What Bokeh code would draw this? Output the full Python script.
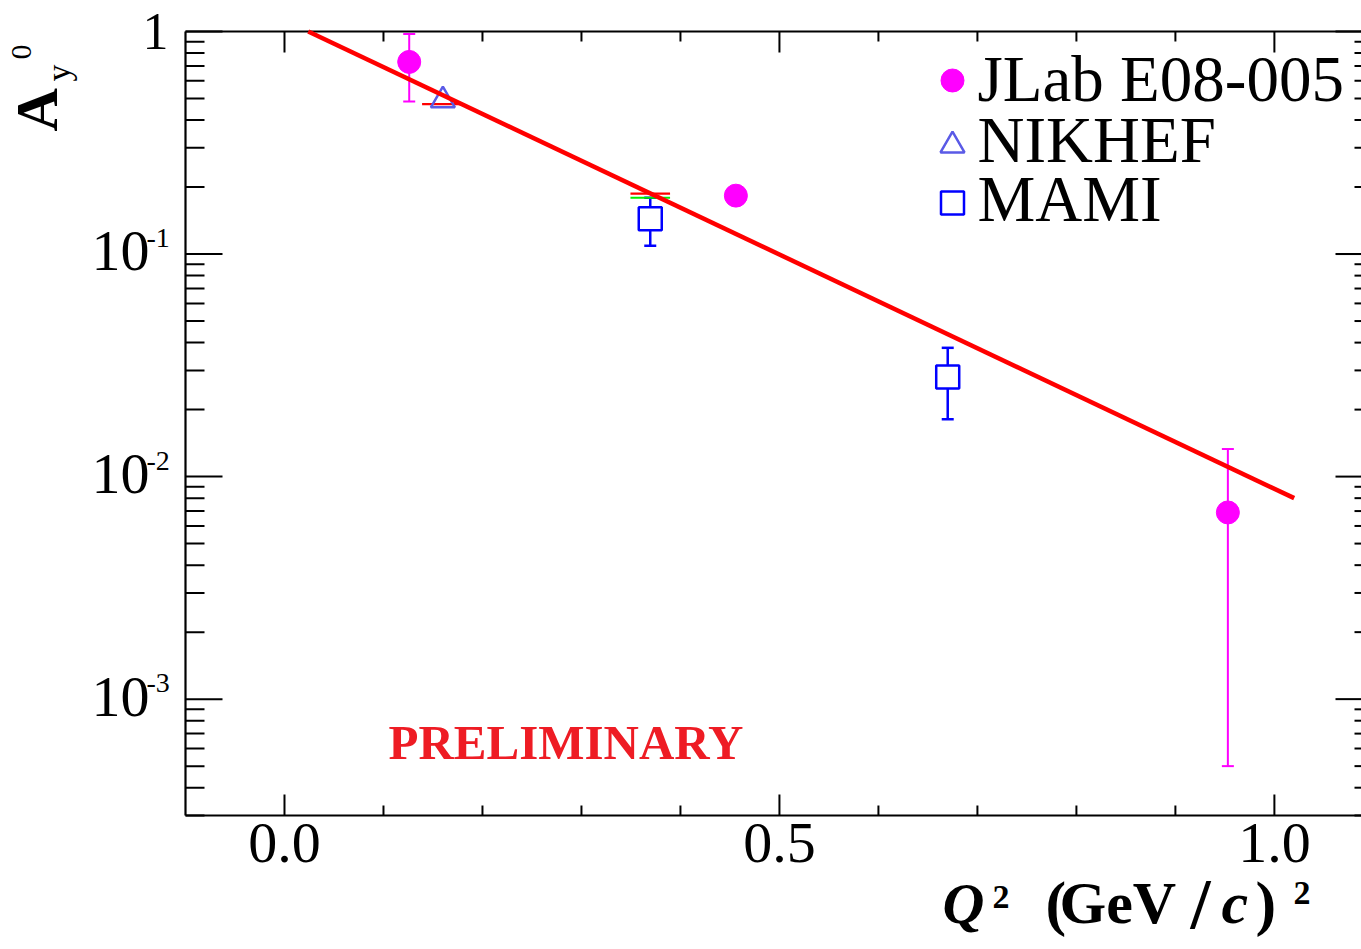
import math

from bokeh.embed import file_html
from bokeh.models import Label, Range1d
from bokeh.plotting import figure
from bokeh.resources import INLINE

# ---- measurements -------------------------------------------------------
# JLab E08-005
jlab_q2 = [0.126, 0.456, 0.953]
jlab_ay = [0.730, 0.183, 0.0069]
jlab_err = [0.245, 0.010, 0.0064]

# NIKHEF
nikhef_q2 = [0.160]
nikhef_ay = [0.490]

# MAMI
mami_q2 = [0.3695, 0.670]
mami_ay = [0.144, 0.028]
mami_err = [0.035, 0.0099]

# model predictions at the NIKHEF / MAMI kinematics
pred_red_q2 = [0.159, 0.3695]
pred_red_ay = [0.472, 0.187]
pred_green_q2 = [0.3695]
pred_green_ay = [0.179]

# exponential fit (straight on the log axis), from the top of the frame
fit_q2 = [0.024, 1.02]
fit_ay = [1.0, 0.0080]

# axis ticks
x_major = [0.0, 0.5, 1.0]
x_major_labels = ["0.0", "0.5", "1.0"]
x_minor = [0.1, 0.2, 0.3, 0.4, 0.6, 0.7, 0.8, 0.9]
y_major = [1e-3, 1e-2, 1e-1, 1.0]
y_exponents = ["-3", "-2", "-1", None]
y_minor = [k * 10.0 ** e for e in (-4, -3, -2, -1) for k in range(2, 10)]

# ---- geometry -----------------------------------------------------------
W, H = 1361, 949
# axes box in page pixels (the right edge runs off the page)
FL, FT, FR, FB = 185, 31, 1361, 815
X0, X1 = -0.1, 1.088
Y0, Y1 = 3.0e-4, 1.0
LY0, LY1 = math.log10(Y0), math.log10(Y1)

FONT = "Liberation Serif"
MAGENTA = "#ff00ff"
NIK_BLUE = "#5a5ae6"
MAMI_BLUE = "#0000ff"
RED = "#ff0000"
GREEN = "#00ee00"
WATERMARK = "#ee1c24"


def px_to_x(px):
    return X0 + (px - FL) * (X1 - X0) / (FR - FL)


def py_to_y(py):
    return 10 ** (LY1 - (py - FT) * (LY1 - LY0) / (FB - FT))


def x_to_px(x):
    return FL + (x - X0) * (FR - FL) / (X1 - X0)


def y_to_py(y):
    return FT + (LY1 - math.log10(y)) * (FB - FT) / (LY1 - LY0)


# the drawing area spans the whole page so that texts outside the axes box
# are not clipped; the axes box itself is drawn below
p = figure(
    width=W, height=H,
    x_range=Range1d(px_to_x(0), px_to_x(W)),
    y_range=Range1d(py_to_y(H), py_to_y(0)),
    y_axis_type="log",
    x_axis_location=None, y_axis_location=None,
    output_backend="svg", toolbar_location=None,
    min_border=0, min_border_left=0, min_border_right=0,
    min_border_top=0, min_border_bottom=0,
    background_fill_color="white", border_fill_color="white",
)
p.outline_line_color = None
for g in p.grid:
    g.visible = False

# ---- axes box and ticks -------------------------------------------------
AX_W = 2.2
TICK_W = 2
p.segment(x0=[X0, X0, X0], y0=[Y0, Y0, Y1], x1=[X0, X1, X1], y1=[Y1, Y0, Y1],
          line_color="black", line_width=AX_W)


def y_ticks(values, left_len, right_len):
    vals = [v for v in values if Y0 <= v <= Y1]
    p.segment(x0=[X0] * len(vals), y0=vals,
              x1=[px_to_x(FL + left_len)] * len(vals), y1=vals,
              line_color="black", line_width=TICK_W)
    p.segment(x0=[X1] * len(vals), y0=vals,
              x1=[px_to_x(FR - right_len)] * len(vals), y1=vals,
              line_color="black", line_width=TICK_W)


def x_ticks(values, length):
    n = len(values)
    p.segment(x0=values, y0=[Y0] * n, x1=values, y1=[py_to_y(FB - length)] * n,
              line_color="black", line_width=TICK_W)
    p.segment(x0=values, y0=[Y1] * n, x1=values, y1=[py_to_y(FT + length)] * n,
              line_color="black", line_width=TICK_W)


y_ticks(y_major, 37, 26)
y_ticks(y_minor, 19, 7)
x_ticks(x_major, 21)
x_ticks(x_minor, 10)

# ---- error bars ---------------------------------------------------------
CAP = 12


def error_bars(xs, ys, errs, color, width):
    lo = [y - e for y, e in zip(ys, errs)]
    hi = [y + e for y, e in zip(ys, errs)]
    p.segment(x0=xs, y0=lo, x1=xs, y1=hi, line_color=color, line_width=width)
    p.scatter(xs, lo, marker="dash", size=CAP, line_color=color, line_width=width)
    p.scatter(xs, hi, marker="dash", size=CAP, line_color=color, line_width=width)


error_bars(jlab_q2, jlab_ay, jlab_err, MAGENTA, 2)
error_bars(mami_q2, mami_ay, mami_err, MAMI_BLUE, 2.5)

# ---- predictions as short horizontal bars -------------------------------
HALF = 0.02
p.segment(x0=[q - HALF for q in pred_green_q2], y0=pred_green_ay,
          x1=[q + HALF for q in pred_green_q2], y1=pred_green_ay,
          line_color=GREEN, line_width=2.2)
p.segment(x0=[q - HALF for q in pred_red_q2], y0=pred_red_ay,
          x1=[q + HALF for q in pred_red_q2], y1=pred_red_ay,
          line_color=RED, line_width=2.2)

# ---- markers ------------------------------------------------------------
p.scatter(jlab_q2, jlab_ay, marker="circle", size=23,
          fill_color=MAGENTA, line_color=MAGENTA, line_width=1)
p.scatter(nikhef_q2, nikhef_ay, marker="triangle", size=24,
          fill_color=None, line_color=NIK_BLUE, line_width=2.5)
p.scatter(mami_q2, mami_ay, marker="square", size=23,
          fill_color="white", line_color=MAMI_BLUE, line_width=2.5)

# ---- fit ----------------------------------------------------------------
p.line(fit_q2, fit_ay, line_color=RED, line_width=4.5)

# ---- texts --------------------------------------------------------------
# Label's alphabetic anchor sits this fraction of the font size above the
# drawn baseline, so positions are given as baselines and shifted here
BASE_SHIFT = 0.39


def page_label(text, px, py, size, style="normal", align="left",
               vertical=False, color="black"):
    if vertical:
        x, y, angle = px - BASE_SHIFT * size, H - py, math.pi / 2
    else:
        x, y, angle = px, H - (py - BASE_SHIFT * size), 0.0
    p.add_layout(Label(
        x=x, y=y, x_units="screen", y_units="screen",
        text=text, text_font=FONT, text_font_size=f"{size}px",
        text_font_style=style, text_align=align, text_baseline="alphabetic",
        angle=angle, text_color=color,
    ))


# y tick labels
for v, ex in zip(y_major, y_exponents):
    ty = y_to_py(v)
    if ex is None:
        page_label("1", 168, ty + 20, 52, align="right")
    else:
        page_label("10", 149, ty + 20, 58, align="right")
        page_label(ex, 146, ty - 5, 28)

# x tick labels
for v, t in zip(x_major, x_major_labels):
    page_label(t, x_to_px(v), FB + 50, 58, align="center")

# x axis title: Q^2 (GeV/c)^2
page_label("Q", 942, 926, 58, style="bold italic")
page_label("2", 992, 910, 34, style="bold")
page_label("(", 1045, 927, 62, style="bold")
page_label("GeV", 1059, 926, 60, style="bold")
page_label("/", 1190, 932, 72, style="bold")
page_label("c", 1221, 926, 60, style="bold italic")
page_label(")", 1255, 927, 62, style="bold")
page_label("2", 1293, 906, 34, style="bold")

# y axis title: A_y^0, reading upwards
page_label("A", 60, 131, 60, style="bold", vertical=True)
page_label("y", 71, 81, 34, vertical=True)
page_label("0", 33, 59, 30, vertical=True)

# legend
LEG_X = 952
for (py, marker, fill, line, lw, size) in [
    (80, "circle", MAGENTA, MAGENTA, 1, 23),
    (145, "triangle", None, NIK_BLUE, 2.5, 24),
    (202.5, "square", "white", MAMI_BLUE, 2.5, 23),
]:
    p.scatter([px_to_x(LEG_X)], [py_to_y(py)], marker=marker, size=size,
              fill_color=fill, line_color=line, line_width=lw)

page_label("JLab E08-005", 977, 104, 65)
page_label("NIKHEF", 977, 165, 65)
page_label("MAMI", 977, 224, 65)

# watermark
page_label("PRELIMINARY", 388, 761, 49, style="bold", color=WATERMARK)

open("out.html", "w").write(file_html(p, INLINE))
